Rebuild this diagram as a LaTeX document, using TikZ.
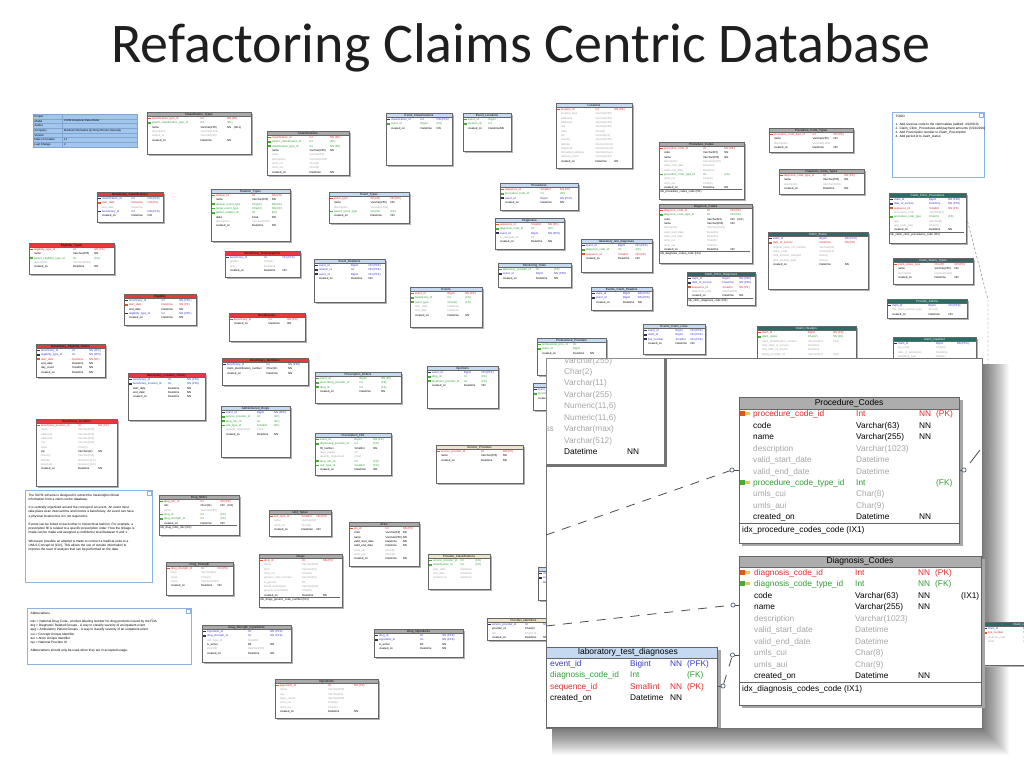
\documentclass[tikz,border=0pt]{standalone}
\usepackage{fontspec}
\setmainfont{Liberation Sans}
\newfontfamily\titlefont{Carlito}
\usetikzlibrary{calc}
\pgfdeclarelayer{bg}
\pgfdeclarelayer{top}
\pgfsetlayers{bg,main,top}
\definecolor{hblue}{HTML}{C5D9F1}
\definecolor{hred}{HTML}{E8383B}
\definecolor{hgray}{HTML}{A9A9A9}
\definecolor{hteal}{HTML}{2F6B66}
\definecolor{hbeige}{HTML}{EDE4C9}
\colorlet{tcblue}{black}
\colorlet{tcred}{black}
\colorlet{tcgray}{black}
\colorlet{tcteal}{white}
\colorlet{tcbeige}{black}
\definecolor{pkred}{HTML}{E52A2D}
\definecolor{fkgreen}{HTML}{2E9E34}
\definecolor{pfkblue}{HTML}{3838D0}
\definecolor{optgray}{HTML}{A6A6A6}
\definecolor{notebd}{HTML}{8DB3E2}
\definecolor{infoblue}{HTML}{A3C7EC}
\definecolor{infobd}{HTML}{7FA6D3}
\definecolor{relc}{HTML}{4A5A78}
\definecolor{keyred}{HTML}{E2561E}
\definecolor{keygreen}{HTML}{4DAA3A}
\definecolor{keyyel}{HTML}{E6C84A}
\definecolor{icodark}{HTML}{303050}
\tikzset{
 tbl/.style={draw=black!60, fill=white, line width=0.4pt, inner sep=0},
 conn/.style={draw=black!45, line width=0.4pt, dash pattern=on 2.5pt off 2pt},
 connS/.style={draw=black!55, line width=0.4pt},
 bigdash/.style={draw=black!70, line width=0.8pt, dash pattern=on 9pt off 8pt},
 bigline/.style={draw=black!70, line width=0.8pt},
 relcirc/.style={circle, draw=relc, fill=white, line width=0.7pt, inner sep=0, minimum size=4.2pt},
 bt/.style={font=\fontsize{8.3}{10}\selectfont, inner sep=0, anchor=base west},
 notebox/.style={draw=notebd, line width=1.4pt, fill=white, inner sep=0},
 notetext/.style={anchor=north west, inner sep=0, align=left, font=\fontsize{3.2}{4.2}\selectfont},
}
\newlength\cA \newlength\cB \newlength\cT
\newcommand\ico[1]{\textcolor{#1}{\rule[0.3pt]{2.6pt}{1.5pt}}}
\newcommand\rr[5]{\makebox[3.6pt][l]{#5}\makebox[\cA][l]{\textcolor{#1}{#2}}\makebox[\cB][l]{\textcolor{#1}{#3}}\textcolor{#1}{#4}\\}
\newcommand\rp[3]{\rr{pkred}{#1}{#2}{#3}{\ico{keyred}}}
\newcommand\rf[3]{\rr{fkgreen}{#1}{#2}{#3}{\ico{keygreen}}}
\newcommand\rpf[3]{\rr{pfkblue}{#1}{#2}{#3}{\ico{icodark}}}
\newcommand\rn[3]{\rr{black}{#1}{#2}{#3}{}}
\newcommand\rg[3]{\rr{optgray}{#1}{#2}{#3}{}}
\newcommand\ix[1]{\rlap{\raisebox{3.2pt}[0pt][0pt]{\textcolor{black!60}{\rule{\cT}{0.3pt}}}}#1\\}
% small table: id, x1, y1, x2, y2, colour, title, rows
\newcommand\stbl[8]{%
  \pgfmathsetmacro\tbw{#4-#2}%
  \pgfmathsetmacro\tbh{#5-#3}%
  \setlength\cT{\tbw pt}\addtolength\cT{-3pt}%
  \setlength\cA{\cT}\addtolength\cA{-3.6pt}\setlength\cB{0.27\cA}\setlength\cA{0.50\cA}%
  \fill[black!30] ({#2+1.5},{#3+1.5}) rectangle ({#4+1.5},{#5+1.5});
  \node[tbl, minimum width=\tbw pt, minimum height=\tbh pt, anchor=north west] (#1) at (#2,#3) {};
  \filldraw[fill=h#6, draw=black!60, line width=0.4pt] (#2,#3) rectangle (#4,{#3+4.6});
  \node[inner sep=0, text=tc#6, font=\fontsize{3}{3}\selectfont] at ({(#2+#4)/2},{#3+2.4}) {#7};
  \node[anchor=north west, inner sep=0, align=left, font=\fontsize{2.8}{4.3}\selectfont] at ({#2+1.2},{#3+5.4}) {#8};
}
\newcommand\notebx[6]{%
  \pgfmathsetmacro\tbw{#4-#2}%
  \pgfmathsetmacro\tbh{#5-#3}%
  \node[notebox, minimum width=\tbw pt, minimum height=\tbh pt, anchor=north west] (#1) at (#2,#3) {};
  \draw[notebd, line width=0.4pt] ({#4-5},{#3+1}) rectangle ({#4-1},{#3+5});
  \node[notetext] at ({#2+3.5},{#3+3.5}) {#6};
}
\newcommand\brow[6]{%
  \node[bt,text=#2] at (\xN,{#1+3}) {#3};
  \node[bt,text=#2] at (\xT,{#1+3}) {#4};
  \node[bt,text=#2] at (\xNN,{#1+3}) {#5};
  \node[bt,text=#2] at (\xF,{#1+3}) {#6};}
\newcommand\bkey[3]{%
  \fill[#3] ({#1},{#2-2.4}) rectangle ({#1+4.6},{#2+2.4});
  \fill[keyyel] ({#1+4.6},{#2-1.4}) rectangle ({#1+10},{#2+1.4});}
\begin{document}
\catcode`\_=12
\begin{tikzpicture}[x=1pt,y=-1pt]
\useasboundingbox (0,0) rectangle (1024,768);
\fill[white] (0,0) rectangle (1024,768);
\node[font=\titlefont\fontsize{56}{60}\selectfont, anchor=base, text=black!88, inner sep=0] (title) at (521,63) {Refactoring Claims Centric Database};

% ---------- project info ----------
\node[draw=infobd, fill=infoblue, line width=0.4pt, minimum width=104pt, minimum height=33pt, anchor=north west, inner sep=0] (proj) at (33,114) {};
\foreach \i in {1,...,6} \draw[infobd, line width=0.25pt] (33,{114+\i*4.714}) -- (137,{114+\i*4.714});
\draw[infobd, line width=0.25pt] (62,114) -- (62,147);
\foreach \i/\t in {0/Project,1/Model,2/Author,3/Company,4/Version,5/Date of Creation,6/Last Change}
  \node[anchor=west, inner sep=0, font=\fontsize{2.8}{3}\selectfont] at (34.5,{116.4+\i*4.714}) {\t};
\foreach \i/\t in {1/CHIM Analytical Data Model,3/Medical Informatics @ Stony Brook University,5/11/2/2009 13:26,6/2/7/2011 10:11}
  \node[anchor=west, inner sep=0, font=\fontsize{2.8}{3}\selectfont] at (64,{116.4+\i*4.714}) {\t};

% ---------- gray tables ----------
\stbl{clt}{147}{112}{251}{154}{gray}{Classification_Types}{%
\rp{classification_type_id}{Int}{NN (PK)}\rf{parent_classification_type_id}{Int}{(FK)}\rn{name}{Varchar(255)}{NN\quad (AK1)}\rg{description}{Varchar(1023)}{}\rg{unique_id}{Varchar(255)}{}\rn{created_on}{Datetime}{NN}}
\stbl{cls}{267}{131}{349}{175}{gray}{Classifications}{%
\rp{classification_id}{Int}{NN (PK)}\rf{parent_classification_id}{Int}{(FK)}\rf{classification_type_id}{Int}{NN (FK)}\rn{name}{Varchar(255)}{NN}\rg{code}{Varchar(63)}{}\rg{description}{Varchar(1023)}{}\rg{umls_cui}{Char(8)}{}\rg{umls_aui}{Char(9)}{}\rn{created_on}{Datetime}{NN}}
\stbl{pcs}{659}{142}{744}{199}{gray}{Procedure_Codes}{%
\rp{procedure_code_id}{Int}{NN (PK)}\rn{code}{Varchar(63)}{NN}\rn{name}{Varchar(255)}{NN}\rg{description}{Varchar(1023)}{}\rg{valid_start_date}{Datetime}{}\rg{valid_end_date}{Datetime}{}\rf{procedure_code_type_id}{Int}{(FK)}\rg{umls_cui}{Char(8)}{}\rg{umls_aui}{Char(9)}{}\rn{created_on}{Datetime}{NN}\ix{idx_procedure_codes_code (IX1)}}
\stbl{dcs}{659}{204}{752}{263}{gray}{Diagnosis_Codes}{%
\rp{diagnosis_code_id}{Int}{NN (PK)}\rf{diagnosis_code_type_id}{Int}{NN (FK)}\rn{code}{Varchar(63)}{NN\quad (IX1)}\rn{name}{Varchar(255)}{NN}\rg{description}{Varchar(1023)}{}\rg{valid_start_date}{Datetime}{}\rg{valid_end_date}{Datetime}{}\rg{umls_cui}{Char(8)}{}\rg{umls_aui}{Char(9)}{}\rn{created_on}{Datetime}{NN}\ix{idx_diagnosis_codes_code (IX1)}}
\stbl{pct}{769}{128}{853}{152}{gray}{Procedure_Code_Types}{%
\rp{procedure_code_type_id}{Int}{NN (PK)}\rn{name}{Varchar(255)}{NN}\rg{description}{Varchar(1023)}{}\rn{created_on}{Datetime}{NN}}
\stbl{dct}{779}{169}{864}{194}{gray}{Diagnosis_Code_Types}{%
\rp{diagnosis_code_type_id}{Int}{NN (PK)}\rn{name}{Varchar(255)}{NN}\rg{description}{Varchar(1023)}{}\rn{created_on}{Datetime}{NN}}
\stbl{ndc}{159}{495}{239}{535}{gray}{Drug_NDCs}{%
\rp{drug_ndc_id}{Int}{NN (PK)}\rn{ndc}{Char(11)}{NN\quad (IX1)}\rg{name}{Varchar(255)}{}\rf{drug_id}{Int}{(FK)}\rf{drug_strength_id}{Int}{(FK)}\rn{created_on}{Datetime}{NN}\ix{idx_drug_ndcs_ndc (IX1)}}
\stbl{dst}{166}{562}{233}{595}{gray}{Drug_Strength}{%
\rp{drug_strength_id}{Int}{NN (PK)}\rg{form}{Varchar(63)}{}\rg{route}{Char(4)}{}\rg{name}{Varchar(1023)}{}\rn{created_on}{Datetime}{NN}}
\stbl{ut}{269}{510}{331}{536}{gray}{Unit_Types}{%
\rp{unit_type_id}{Smallint}{NN (PK)}\rg{name}{Varchar(63)}{}\rg{umls_cui}{Char(8)}{}\rn{created_on}{Datetime}{NN}}
\stbl{drg}{259}{554}{342}{607}{gray}{Drugs}{%
\rp{drug_id}{Int}{NN (PK)}\rg{name}{Varchar(255)}{}\rg{form}{Varchar(63)}{}\rg{umls_cui}{Char(8)}{}\rg{generic_code_number}{Varchar(31)}{}\rg{is_generic}{Bit}{}\rg{brand_description}{Varchar(255)}{}\rg{generic_description}{Char(8)}{}\rn{created_on}{Datetime}{NN}\ix{idx_drugs_generic_code_number (IX1)}}
\stbl{atc}{349}{522}{419}{566}{gray}{ATCs}{%
\rp{atc_id}{Int}{NN (PK)}\rn{code}{Varchar(63)}{NN}\rn{name}{Varchar(255)}{NN}\rn{valid_start_date}{Datetime}{NN}\rn{valid_end_date}{Datetime}{NN}\rg{umls_cui}{Char(8)}{}\rg{umls_aui}{Char(9)}{}\rn{created_on}{Datetime}{NN}}
\stbl{din}{374}{629}{463}{657}{gray}{Drug_Ingredients}{%
\rpf{drug_id}{Int}{NN (PFK)}\rpf{ingredient_id}{Int}{NN (PFK)}\rn{is_active}{Bit}{NN}\rn{created_on}{Datetime}{NN}}
\stbl{ing}{275}{679}{378}{718}{gray}{Ingredients}{%
\rp{ingredient_id}{Int}{NN (PK)}\rg{name}{Varchar(255)}{}\rg{cas}{Varchar(63)}{}\rg{iupac_name}{Varchar(255)}{}\rg{umls_cui}{Char(8)}{}\rg{umls_aui}{Char(9)}{}\rn{created_on}{Datetime}{NN}}
\stbl{dsi}{202}{625}{291}{662}{gray}{Drug_Strength_Ingredients}{%
\rpf{ingredient_id}{Int}{NN (PFK)}\rpf{drug_strength_id}{Int}{NN (PFK)}\rg{unit_type_id}{Smallint}{}\rn{is_active}{Bit}{NN}\rg{strength}{Varchar(255)}{}\rn{created_on}{Datetime}{NN}}

% ---------- red tables ----------
\stbl{bcl}{97}{192}{163}{222}{red}{Beneficiary_Classifications}{%
\rpf{classification_id}{Int}{NN (PFK)}\rp{start_date}{Datetime}{NN (PK)}\rg{end_date}{Datetime}{}\rpf{beneficiary_id}{Int}{NN (PFK)}\rn{created_on}{Datetime}{NN}}
\stbl{elt}{29}{243}{114}{274}{red}{Eligibility_Types}{%
\rp{eligibility_type_id}{Int}{NN (PK)}\rn{name}{Varchar(255)}{NN}\rf{parent_eligibility_type_id}{Int}{(FK)}\rg{description}{Varchar(1023)}{}\rn{created_on}{Datetime}{NN}}
\stbl{elg}{124}{294}{196}{325}{red}{Eligibility}{%
\rpf{beneficiary_id}{Int}{NN (PFK)}\rp{start_date}{Datetime}{NN (PK)}\rn{end_date}{Datetime}{NN}\rpf{eligibility_type_id}{Int}{NN (PFK)}\rn{created_on}{Datetime}{NN}}
\stbl{ben}{229}{313}{305}{341}{red}{Beneficiaries}{%
\rp{beneficiary_id}{Int}{NN (PK)}\rn{created_on}{Datetime}{NN}}
\stbl{bdm}{225}{251}{300}{277}{red}{Beneficiary_Demographics}{%
\rpf{beneficiary_id}{Int}{NN (PFK)}\rg{gender}{Char(1)}{}\rg{dob}{Datetime}{}\rn{created_on}{Datetime}{NN}}
\stbl{bes}{36}{344}{105}{377}{red}{Beneficiary_Eligibility_Status}{%
\rpf{beneficiary_id}{Int}{NN (PFK)}\rpf{eligibility_type_id}{Int}{NN (PFK)}\rp{start_date}{Datetime}{NN (PK)}\rn{end_date}{Datetime}{NN}\rn{day_count}{Smallint}{NN}\rn{created_on}{Datetime}{NN}}
\stbl{blh}{128}{373}{205}{420}{red}{Beneficiary_Location_History}{%
\rpf{beneficiary_id}{Int}{NN (PFK)}\rpf{beneficiary_location_id}{Int}{NN (PFK)}\rn{start_date}{Datetime}{NN}\rn{end_date}{Datetime}{NN}\rn{created_on}{Datetime}{NN}}
\stbl{blc}{36}{419}{117}{486}{red}{Beneficiary_Location}{%
\rp{beneficiary_location_id}{Int}{NN (PK)}\rg{name}{Varchar(255)}{}\rg{address1}{Varchar(255)}{}\rg{address2}{Varchar(255)}{}\rg{city}{Varchar(255)}{}\rg{state}{Char(2)}{}\rn{zip}{Varchar(11)}{NN}\rg{country}{Varchar(255)}{}\rg{latitude}{Numeric(11,6)}{}\rg{longitude}{Numeric(11,6)}{}\rn{created_on}{Datetime}{NN}}
\stbl{bid}{222}{358}{308}{385}{red}{Beneficiary_Identifiers}{%
\rpf{beneficiary_id}{Int}{NN (PFK)}\rn{claim_identification_number}{Char(11)}{NN}\rn{created_on}{Datetime}{NN}}

% ---------- blue tables ----------
\stbl{evc}{386}{113}{452}{165}{blue}{Event_Classifications}{%
\rpf{classification_id}{Int}{NN (PFK)}\rf{event_id}{Bigint}{(FK)}\rn{created_on}{Datetime}{NN}}
\stbl{evl}{463}{113}{511}{151}{blue}{Event_Locations}{%
\rf{event_id}{Bigint}{}\rf{location_id}{Int}{}\rn{created_on}{Datetime}{NN}}
\stbl{loc}{556}{103}{632}{168}{blue}{Locations}{%
\rp{location_id}{Int}{NN (PK)}\rg{location_type}{Varchar(255)}{}\rg{address1}{Varchar(255)}{}\rg{address2}{Varchar(255)}{}\rg{city}{Varchar(255)}{}\rg{state}{Char(2)}{}\rg{zip}{Varchar(11)}{}\rg{country}{Varchar(255)}{}\rg{latitude}{Numeric(11,6)}{}\rg{longitude}{Numeric(11,6)}{}\rg{formatted_address}{Varchar(max)}{}\rg{address_hash}{Varchar(512)}{}\rn{created_on}{Datetime}{NN}}
\stbl{rgt}{211}{189}{290}{241}{blue}{Relation_Types}{%
\rp{relation_id}{Int}{NN (PK)}\rn{name}{Varchar(255)}{NN}\rf{domain_event_type}{Char(2)}{NN (FK)}\rf{range_event_type}{Char(2)}{NN (FK)}\rf{parent_relation_id}{Int}{(FK)}\rn{delta}{Float}{NN}\rg{description}{Varchar(1023)}{}\rn{created_on}{Datetime}{NN}}
\stbl{evt}{329}{192}{409}{223}{blue}{Event_Types}{%
\rp{event_type}{Char(2)}{NN (PK)}\rn{name}{Varchar(255)}{NN}\rg{description}{Varchar(1023)}{}\rf{parent_event_type}{Char(2)}{(FK)}\rn{created_on}{Datetime}{NN}}
\stbl{evr}{314}{259}{385}{302}{blue}{Event_Relations}{%
\rpf{event_id}{Bigint}{NN (PFK)}\rpf{relation_id}{Int}{NN (PFK)}\rpf{event_id}{Bigint}{NN (PFK)}\rn{created_on}{Datetime}{NN}}
\stbl{ev}{410}{287}{482}{327}{blue}{Events}{%
\rp{event_id}{Bigint}{NN (PK)}\rf{beneficiary_id}{Int}{(FK)}\rf{event_type}{Char(2)}{(FK)}\rg{start_date}{Datetime}{}\rg{end_date}{Datetime}{}\rn{created_on}{Datetime}{NN}}
\stbl{prc}{500}{183}{578}{210}{blue}{Procedures}{%
\rp{sequence_id}{Smallint}{NN (PK)}\rf{procedure_code_id}{Int}{(FK)}\rpf{event_id}{Bigint}{NN (PFK)}\rn{created_on}{Datetime}{NN}}
\stbl{dgn}{495}{218}{564}{249}{blue}{Diagnoses}{%
\rp{sequence_id}{Smallint}{NN (PK)}\rf{diagnosis_code_id}{Int}{(FK)}\rpf{event_id}{Bigint}{NN (PFK)}\rg{is_principal_dx}{Bit}{}\rn{created_on}{Datetime}{NN}}
\stbl{mts}{498}{263}{571}{287}{blue}{Monitoring_Tests}{%
\rf{laboratory_provider_id}{Int}{(FK)}\rpf{event_id}{Bigint}{NN (PFK)}\rn{created_on}{Datetime}{NN}}
\stbl{ltd}{581}{239}{652}{272}{blue}{laboratory_test_diagnoses}{%
\rpf{event_id}{Bigint}{NN (PFK)}\rf{diagnosis_code_id}{Int}{(FK)}\rp{sequence_id}{Smallint}{NN (PK)}\rn{created_on}{Datetime}{NN}}
\stbl{ech}{591}{287}{652}{310}{blue}{Events_Claim_Headers}{%
\rpf{claim_id}{Bigint}{NN (PFK)}\rpf{event_id}{Bigint}{NN (PFK)}\rn{created_on}{Datetime}{NN}}
\stbl{ecl}{643}{324}{705}{354}{blue}{Events_Claim_Lines}{%
\rpf{event_id}{Bigint}{NN (PFK)}\rpf{claim_id}{Bigint}{NN (PFK)}\rpf{line_number}{Smallint}{NN (PFK)}\rn{created_on}{Datetime}{NN}}
\stbl{pfp}{537}{338}{606}{375}{blue}{Professional_Providers}{%
\rf{professional_prov_id}{Int}{}\rf{event_id}{Bigint}{}\rn{created_on}{Datetime}{NN}}
\stbl{evp}{533}{383}{600}{410}{blue}{Events_Providers}{%
\rpf{event_id}{Bigint}{NN (PFK)}\rf{provider_id}{Int}{(FK)}\rn{created_on}{Datetime}{NN}}
\stbl{adm}{221}{406}{290}{457}{blue}{Administered_Drugs}{%
\rpf{event_id}{Bigint}{NN (PFK)}\rf{service_provider_id}{Int}{(FK)}\rf{drug_ndc_id}{Int}{(FK)}\rf{unit_type_id}{Smallint}{(FK)}\rg{quantity_dispensed}{Float}{}\rn{created_on}{Datetime}{NN}}
\stbl{pro}{315}{372}{401}{403}{blue}{Prescription_Orders}{%
\rf{event_id}{Bigint}{NN (FK)}\rf{prescribing_provider_id}{Int}{(FK)}\rf{drug_id}{Int}{(FK)}\rn{created_on}{Datetime}{NN}}
\stbl{prf}{315}{433}{391}{475}{blue}{Prescription_Fills}{%
\rf{event_id}{Bigint}{NN (FK)}\rf{dispensing_provider_id}{Int}{(FK)}\rn{fill_number}{Smallint}{NN}\rg{days_supply}{Int}{}\rg{quantity_dispensed}{Float}{}\rf{drug_ndc_id}{Int}{(FK)}\rf{unit_type_id}{Smallint}{(FK)}\rn{created_on}{Datetime}{NN}}
\stbl{inj}{427}{366}{498}{408}{blue}{Injections}{%
\rpf{event_id}{Bigint}{NN (PFK)}\rf{drug_id}{Int}{(FK)}\rf{treatment_provider_id}{Int}{(FK)}\rn{created_on}{Datetime}{NN}}
\stbl{cpx}{538}{567}{620}{600}{blue}{Claim_Prescriptions}{%
\rpf{claim_id}{Bigint}{NN (PFK)}\rpf{event_id}{Bigint}{NN (PFK)}\rn{created_on}{Datetime}{NN}}
\stbl{svp}{436}{445}{523}{483}{beige}{Service_Providers}{%
\rp{service_provider_id}{Int}{NN (PK)}\rn{name}{Varchar(255)}{NN}\rn{created_on}{Datetime}{NN}}
\stbl{pvc}{428}{554}{490}{589}{beige}{Provider_Classifications}{%
\rf{service_provider_id}{Int}{(FK)}\rf{classification_id}{Int}{(FK)}\rg{start_date}{Datetime}{}\rg{end_date}{Datetime}{}\rg{created_on}{Datetime}{}}
\stbl{pvi}{487}{618}{560}{640}{beige}{Provider_Identifiers}{%
\rpf{service_provider_id}{Int}{NN (PFK)}\rn{provider_id}{Char(8)}{}\rg{npi}{Char(10)}{}\rn{created_on}{Datetime}{NN}}

% ---------- teal tables ----------
\stbl{ccp}{889}{193}{966}{243}{teal}{Claim_Clinic_Procedures}{%
\rpf{claim_id}{Bigint}{NN (PFK)}\rpf{date_of_service}{Datetime}{NN (PFK)}\rp{sequence_id}{Smallint}{NN (PK)}\rg{procedure_code}{Varchar(63)}{}\rf{procedure_code_type}{Char(3)}{(FK)}\rg{apg}{Varchar(8)}{}\rg{apg_code_type}{Char(3)}{}\rn{created_on}{Datetime}{NN}\ix{idx_claim_clinic_procedures_code (IX1)}}
\stbl{cst}{768}{232}{868}{289}{teal}{Claim_Status}{%
\rpf{claim_id}{Bigint}{NN (PFK)}\rp{date_of_service}{Datetime}{NN (PK)}\rg{original_claim_ref_number}{Varchar(63)}{}\rg{claim_code}{Varchar(15)}{}\rg{total_amount_charged}{Money}{}\rg{total_amount_paid}{Money}{}\rn{created_on}{Datetime}{NN}}
\stbl{ccd}{687}{272}{755}{305}{teal}{Claim_Clinic_Diagnoses}{%
\rpf{claim_id}{Bigint}{NN (PFK)}\rpf{date_of_service}{Datetime}{NN (PFK)}\rp{sequence_id}{Smallint}{NN (PK)}\rg{diagnosis_code}{Varchar(63)}{}\rn{created_on}{Datetime}{NN}\ix{idx_clinic_diagnosis_code (IX1)}}
\stbl{cstt}{893}{258}{973}{284}{teal}{Claim_Status_Types}{%
\rp{claim_status_type}{Char(2)}{NN (PK)}\rn{name}{Varchar(255)}{NN}\rg{description}{Varchar(1023)}{}\rn{created_on}{Datetime}{NN}}
\stbl{prcl}{887}{299}{967}{318}{teal}{Provider_Claims}{%
\rpf{claim_id}{Bigint}{NN (PFK)}\rg{first_claim_service_type}{Char(1)}{}\rn{created_on}{Datetime}{NN}}
\stbl{chd}{757}{326}{856}{380}{teal}{Claim_Headers}{%
\rp{claim_id}{Bigint}{NN (PK)}\rf{claim_status}{Char(2)}{NN (FK)}\rg{claim_identification_number}{Varchar(63)}{(IX1)}\rg{start_date_of_service}{Datetime}{}\rg{end_date_of_service}{Datetime}{}\rg{billing_provider_id}{Varchar(63)}{(IX2)}}
\stbl{cln}{893}{337}{976}{380}{teal}{Claim_Inpatient}{%
\rpf{claim_id}{Bigint}{NN (PFK)}\rg{rev_code}{Char(4)}{}\rg{date_of_admission}{Datetime}{}\rg{admitting_type}{Char(1)}{}}

% ---------- notes ----------
\notebx{suhii}{25}{490}{152}{582}{The SUHII schema is designed to extract the meaningful clinical\\information from a claim centric database.\\[4.2pt]It is centrally organized around the concept of an event.  An event must\\take place at an interval time and involve a beneficiary.  An event can have\\a physical location but it is not required to.\\[4.2pt]Events can be linked to each other in hierarchical fashion.  For example, a\\prescription fill is related to a specific prescription order. How the linkage is\\made can be made and assigned a confidence level between 0 and 1.\\[4.2pt]Whenever possible an attempt is made to connect a medical code to a\\UMLS Concept Id (CUI).  This allows the use of outside information to\\improve the level of analysis that can be performed on the data.}
\notebx{abbr}{27}{608}{191}{664}{Abbreviations\\[4.2pt]ndc = National Drug Code - product labeling number for drug products issued by the FDA\\drg = Diagnostic Related Groups - A way to classify severity of an inpatient event\\apg = Ambulatory Patient Groups - A way to classify severity of an outpatient event\\cui = Concept Unique Identifier\\aui = Atom Unique Identifier\\npi = National Provider Id\\[4.2pt]Abbreviations should only be used when they are in accepted usage.}
\notebx{todo}{892}{112}{984}{177}{TODO\\[3pt]1. Add revenue code to the claim tables (added: 4/2/2010)\\2. Claim_Clinic_Procedures add payment amounts (3/13/2010)\\3. Add Prescription number to Claim_Prescription\\4. Add period id to claim_status}

% ---------- background connectors ----------
\begin{pgfonlayer}{bg}
\draw[conn] ([yshift=-20pt]clt.north east) -- ([yshift=-8pt]cls.north west);
\draw[conn] ([yshift=-20pt]cls.north east) -- ([yshift=-25pt]evc.north west);
\draw[conn] ([yshift=-29pt]cls.north west) -- ([yshift=-8pt]bcl.north east);
\draw[conn] ([xshift=40pt]cls.south west) -- ([xshift=-12pt]evr.north east);
\draw[conn] ([xshift=30pt]evc.south west) -- ([xshift=15pt]ev.north west);
\draw[conn] ([xshift=24pt]evl.south west) -- ([xshift=-10pt]ev.north east);
\draw[conn] ([yshift=-20pt]evl.north east) -- ([yshift=-30pt]loc.north west);
\draw[conn] ([yshift=-13pt]rgt.north east) -- ([yshift=-10pt]evt.north west);
\draw[conn] ([yshift=-26pt]rgt.north east) -- ([yshift=-21pt]evt.north west);
\draw[conn] ([xshift=-40pt]evt.south east) -- ([xshift=5pt]ev.north west);
\draw[connS] ([yshift=-38pt]rgt.north east) -- ([yshift=-20pt]evr.north west);
\draw[conn] ([yshift=-13pt]evr.north east) -- ([yshift=-8pt]ev.north west);
\draw[conn] ([yshift=-30pt]evr.north east) -- ([yshift=-16pt]ev.north west);
\draw[conn] ([yshift=-18pt]bcl.north east) -- ([yshift=-2pt]ben.north west);
\draw[conn] ([yshift=-14pt]elt.north east) -- ++(4,0) |- ([yshift=-16pt]elg.north west);
\draw[conn] ([xshift=42pt]elt.south west) -- ([xshift=35pt]bes.north west);
\draw[conn] ([yshift=-15pt]elg.north east) -- ([yshift=-8pt]ben.north west);
\draw[connS] ([xshift=35pt]bdm.south west) -- ([xshift=30pt]ben.north west);
\draw[conn] ([yshift=-17pt]ben.north east) -- ([yshift=-28pt]ev.north west);
\draw[conn] ([yshift=-17pt]bes.north east) -- ([yshift=-22pt]ben.north west);
\draw[conn] ([yshift=-24pt]blh.north east) -- ([xshift=5pt]ben.south west);
\draw[conn] ([xshift=39pt]blc.north west) -- ([yshift=-23pt]blh.north west);
\draw[connS] ([xshift=36pt]bid.north west) -- ([xshift=29pt]ben.south west);
\draw[conn] ([xshift=-15pt]ev.north east) -- ([yshift=-14pt]prc.north west);
\draw[conn] ([xshift=-5pt]ev.north east) -- ([yshift=-16pt]dgn.north west);
\draw[connS] ([yshift=-4pt]ev.north east) -- ([yshift=-12pt]mts.north west);
\draw[connS] ([yshift=-12pt]ev.north east) -- ([yshift=-12pt]ech.north west);
\draw[conn] ([yshift=-18pt]ev.north east) -- ([yshift=-16pt]ecl.north west);
\draw[conn] ([yshift=-24pt]ev.north east) -- ([yshift=-10pt]pfp.north west);
\draw[connS] ([yshift=-30pt]ev.north east) -- ([yshift=-12pt]evp.north west);
\draw[connS] ([xshift=-27pt]ev.south east) -- ([xshift=28pt]inj.north west);
\draw[connS] ([yshift=-35pt]ev.north west) -- ([xshift=-2pt]pro.north west);
\draw[connS] ([yshift=-17pt]adm.north east) -- (pro.south west);
\draw[conn] ([xshift=15pt]ev.south west) -- ([xshift=-20pt]pro.north east);
\draw[conn] ([xshift=8pt]ev.south west) -- ([yshift=-6pt]prf.north east);
\draw[conn] ([xshift=22pt]ev.south west) -- ([xshift=-15pt]atc.north east);
\draw[conn] ([xshift=-8pt]ev.south east) -- ([xshift=-20pt]svp.north east);
\draw[conn] ([xshift=2pt]ev.south west) -- ([yshift=-5pt]ndc.north east);
\draw[conn] ([yshift=-14pt]prc.north east) -- ([yshift=-27pt]pcs.north west);
\draw[conn] ([yshift=-15pt]dgn.north east) -- ([yshift=-20pt]dcs.north west);
\draw[conn] ([yshift=-8pt]ltd.north east) -- ([yshift=-39pt]dcs.north west);
\draw[conn] ([yshift=-16pt]ltd.north east) -- ([yshift=-51pt]dcs.north west);
\draw[connS] ([yshift=-6pt]mts.north east) -- ([yshift=-10pt]ltd.north west);
\draw[conn] ([yshift=-28pt]pcs.north east) -- ([yshift=-9pt]pct.north west);
\draw[conn] ([yshift=-29pt]dcs.north east) -- ([yshift=-11pt]dct.north west);
\draw[conn] ([yshift=-28pt]cst.north east) -- ([yshift=-24pt]ccp.north west);
\draw[conn] ([xshift=50pt]cst.south west) -- ([xshift=33pt]chd.north west);
\draw[conn] ([yshift=-13pt]cstt.north west) -- ([xshift=65pt]chd.north west);
\draw[connS] ([yshift=-8pt]prcl.north west) -- ([yshift=-22pt]chd.north east);
\draw[connS] ([yshift=-10pt]ech.north east) -- ([yshift=-22pt]chd.north west);
\draw[conn] ([yshift=-16pt]ccd.north east) -- ([yshift=-28pt]cst.north west);
\draw[conn] ([yshift=-16pt]ecl.north east) -- ([xshift=10pt]chd.south west);
\draw[conn] ([yshift=-24pt]adm.north west) -- ([xshift=40pt]ndc.north west);
\draw[conn] ([xshift=34pt]adm.south west) -- ([yshift=-12pt]ut.north west);
\draw[conn] ([yshift=-19pt]prf.north west) -- ([yshift=-15pt]ndc.north east);
\draw[conn] ([xshift=12pt]prf.south west) -- ([xshift=-8pt]ut.north east);
\draw[conn] ([xshift=42pt]pro.south west) -- ([xshift=42pt]prf.north west);
\draw[conn] ([xshift=-10pt]prf.south east) -- ([xshift=30pt]atc.north west);
\draw[conn] ([yshift=-34pt]adm.north east) -- ([yshift=-10pt]prf.north west);
\draw[conn] ([xshift=40pt]ndc.south west) -- ([xshift=33pt]dst.north west);
\draw[conn] ([yshift=-16pt]drg.north west) -- ([xshift=44pt]dsi.north west);
\draw[conn] ([xshift=30pt]ut.south west) -- ([xshift=40pt]drg.north west);
\draw[conn] ([yshift=-24pt]drg.north east) -- ([yshift=-14pt]din.north west);
\draw[conn] ([xshift=44pt]din.south west) -- ([yshift=-21pt]ing.north east);
\draw[conn] ([yshift=-18pt]dsi.north east) -- ([xshift=52pt]ing.north west);
\draw[conn] ([xshift=24pt]inj.south west) -- ([xshift=15pt]svp.north west);
\draw[conn] ([xshift=-10pt]inj.south east) -- ([xshift=-30pt]svp.north east);
\draw[conn] ([yshift=-11pt]pro.north east) -- ([yshift=-10pt]svp.north west);
\draw[conn] ([yshift=-14pt]prf.north east) -- ([yshift=-18pt]svp.north west);
\draw[conn] ([xshift=22pt]svp.south west) -- ([xshift=20pt]pvc.north west);
\draw[conn] ([xshift=32pt]svp.south west) -- ([xshift=42pt]pvc.north west);
\draw[connS] ([xshift=44pt]svp.south west) -- ([xshift=40pt]pvi.north west);
\draw[conn] ([yshift=-20pt]svp.north east) -- ([yshift=-10pt]evp.south west);
\draw[conn] ([xshift=20pt]atc.south west) -- ([xshift=50pt]din.north west);
\draw[conn] ([yshift=-20pt]pro.north east) -- ([yshift=-8pt]cpx.north west);
\end{pgfonlayer}

% ---------- zoomed overlay ----------
\begin{pgfonlayer}{top}
\foreach \d in {1,...,27}
  \fill[black, opacity=0.025] (552,364) rectangle ({982+\d},{728+\d});
\stbl{rpt}{983}{622}{1060}{665}{teal}{Claim_Lines}{%
\rpf{claim_id}{Bigint}{NN (PFK)}\rp{line_number}{Smallint}{NN (PK)}\rg{revenue_code}{Char(4)}{}\rg{units}{Int}{}}
\coordinate (vbend) at (988,300);
\draw[conn, draw=black!55] ([yshift=-24pt]ccp.north east) -- (vbend) -- ([xshift=5pt]rpt.north west);

\node[draw=black!55, fill=white, line width=0.6pt, minimum width=436pt, minimum height=370pt, anchor=north west, inner sep=0] (ovl) at (546,358) {};
% zoomed Locations panel
\node[draw=black!45, fill=white, line width=0.5pt, minimum width=119pt, minimum height=106pt, anchor=north west, inner sep=0] (inp) at (546,358) {};
\begin{scope}
\clip (546,358) rectangle (665,464);
\foreach \yy/\tt in {360.3/{Varchar(255)},371.3/{Char(2)},382.7/{Varchar(11)},394.3/{Varchar(255)},405.7/{Numeric(11,6)},417.3/{Numeric(11,6)},428.7/{Varchar(max)},440.3/{Varchar(512)}}
  \node[bt, text=optgray] at (564,{\yy+3}) {\tt};
\node[bt] at (564,454.7) {Datetime};
\node[bt] at (627,454.7) {NN};
\node[bt, anchor=base east, text=optgray] at (554,431.7) {formatted_address};
\end{scope}
\fill[black!55] (663.5,358) rectangle (667,466.5);
\fill[black!55] (546,463.5) rectangle (667,466.5);

% Procedure_Codes
\fill[black!35] (742,400) rectangle (962.5,546);
\node[draw=black!60, fill=white, line width=0.6pt, minimum width=220pt, minimum height=146pt, anchor=north west, inner sep=0] (pcodes) at (739,397) {};
\filldraw[fill=black!32, draw=black!60, line width=0.6pt] (739,397) rectangle (959,409);
\node[inner sep=0, font=\fontsize{8.5}{10}\selectfont] at (849,403) {Procedure_Codes};
\def\xN{753}\def\xT{856}\def\xNN{919}\def\xF{936}
\bkey{740}{413.7}{keyred}
\brow{413.7}{pkred}{procedure_code_id}{Int}{NN}{(PK)}
\brow{425.2}{black}{code}{Varchar(63)}{NN}{}
\brow{436.6}{black}{name}{Varchar(255)}{NN}{}
\brow{448.1}{optgray}{description}{Varchar(1023)}{}{}
\brow{459.5}{optgray}{valid_start_date}{Datetime}{}{}
\brow{471.0}{optgray}{valid_end_date}{Datetime}{}{}
\bkey{740}{482.4}{keygreen}
\brow{482.4}{fkgreen}{procedure_code_type_id}{Int}{}{(FK)}
\brow{493.9}{optgray}{umls_cui}{Char(8)}{}{}
\brow{505.3}{optgray}{umls_aui}{Char(9)}{}{}
\brow{516.8}{black}{created_on}{Datetime}{NN}{}
\draw[black!60, line width=0.6pt] (739,523) -- (959,523);
\node[bt] at (742,532.5) {idx_procedure_codes_code (IX1)};

% Diagnosis_Codes
\fill[black!35] (742,559) rectangle (984.5,708);
\node[draw=black!60, fill=white, line width=0.6pt, minimum width=242pt, minimum height=149pt, anchor=north west, inner sep=0] (dcodes) at (739,556) {};
\filldraw[fill=black!32, draw=black!60, line width=0.6pt] (739,556) rectangle (981,567);
\node[inner sep=0, font=\fontsize{8.5}{10}\selectfont] at (860,561.5) {Diagnosis_Codes};
\def\xN{754}\def\xT{855}\def\xNN{918}\def\xF{935}
\bkey{740}{572.3}{keyred}
\brow{572.3}{pkred}{diagnosis_code_id}{Int}{NN}{(PK)}
\bkey{740}{583.8}{keygreen}
\brow{583.8}{fkgreen}{diagnosis_code_type_id}{Int}{NN}{(FK)}
\brow{595.3}{black}{code}{Varchar(63)}{NN}{}
\node[bt] at (961,598.3) {(IX1)};
\brow{606.7}{black}{name}{Varchar(255)}{NN}{}
\brow{618.2}{optgray}{description}{Varchar(1023)}{}{}
\brow{629.7}{optgray}{valid_start_date}{Datetime}{}{}
\brow{641.2}{optgray}{valid_end_date}{Datetime}{}{}
\brow{652.6}{optgray}{umls_cui}{Char(8)}{}{}
\brow{664.1}{optgray}{umls_aui}{Char(9)}{}{}
\brow{675.6}{black}{created_on}{Datetime}{NN}{}
\draw[black!60, line width=0.6pt] (739,682) -- (981,682);
\node[bt] at (742,691) {idx_diagnosis_codes_code (IX1)};

% laboratory_test_diagnoses
\fill[black!35] (549,650) rectangle (720.5,728);
\node[draw=black!60, fill=white, line width=0.6pt, minimum width=171pt, minimum height=80pt, anchor=north west, inner sep=0] (labtd) at (546,647) {};
\filldraw[fill=hblue, draw=black!60, line width=0.6pt] (546,647) rectangle (717,658);
\node[inner sep=0, font=\fontsize{8.5}{10}\selectfont] at (628,652.5) {laboratory_test_diagnoses};
\def\xN{550}\def\xT{630}\def\xNN{670}\def\xF{687}
\brow{663.3}{pfkblue}{event_id}{Bigint}{NN}{(PFK)}
\brow{674.7}{fkgreen}{diagnosis_code_id}{Int}{}{(FK)}
\brow{686.0}{pkred}{sequence_id}{Smallint}{NN}{(PK)}
\brow{697.3}{black}{created_on}{Datetime}{NN}{}

% overlay connectors
\coordinate (pin) at (546,535);
\node[relcirc] (pc1) at (732,470) {};
\draw[bigdash] (pin) -- (pc1);
\draw[bigline] (pc1) -- (pcodes.west |- pc1);
\coordinate (din) at (546,626);
\node[relcirc] (dc1) at (733,605) {};
\draw[bigdash] (din) -- (dc1);
\draw[bigline] (dc1) -- (dcodes.west |- dc1);
\node[relcirc] (lc1) at (723,686) {};
\node[relcirc] (lc2) at (732.5,655) {};
\draw[bigline] (labtd.east |- lc1) -- (lc1);
\draw[bigdash, dash pattern=on 9pt off 9pt] (lc1) -- (lc2);
\draw[bigline] (lc2) -- (dcodes.west |- lc2);
\node[relcirc] (pc2) at (964,470) {};
\draw[bigline] (pcodes.east |- pc2) -- (pc2);
\coordinate (pout) at (980,450);
\draw[bigline] ([shift={(6,-7)}]pc2.center) -- (pout);
\end{pgfonlayer}
\end{tikzpicture}
\end{document}
